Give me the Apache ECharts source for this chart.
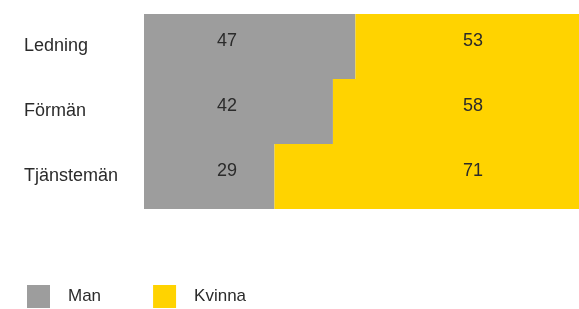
<!DOCTYPE html>
<html><head><meta charset="utf-8">
<script src="https://cdn.jsdelivr.net/npm/echarts@6/dist/echarts.min.js"></script>
<style>html,body{margin:0;padding:0;background:#fff}#c{width:579px;height:309px}</style>
</head><body><div id="c"></div>
<script>
const categories = ['Ledning', 'Förmän', 'Tjänstemän'];
const manValues = [47, 42, 29];
const kvinnaValues = [53, 58, 71];
const seriesNames = ['Man', 'Kvinna'];

const FONT = 'Liberation Sans';
const TXT = '#2b2b2b';
const GRAY = '#9d9d9d';
const YELLOW = '#ffd300';
const chart = echarts.init(document.getElementById('c'), null, {renderer: 'canvas'});
chart.setOption({
  animation: false,
  backgroundColor: '#fff',
  grid: {left: 144, top: 14, height: 195, right: 0, containLabel: false},
  xAxis: {type: 'value', min: 0, max: 96.7, show: false},
  yAxis: {
    type: 'category', data: categories, inverse: true,
    axisLine: {show: false}, axisTick: {show: false}, splitLine: {show: false},
    axisLabel: {align: 'left', margin: 120, color: TXT, fontFamily: FONT, fontSize: 18, padding: [0,0,20,0]}
  },
  legend: {
    left: 22, top: 280, itemWidth: 23, itemHeight: 23, itemGap: 52, icon: 'rect',
    textStyle: {color: TXT, fontFamily: FONT, fontSize: 17, padding: [19, 0, 0, 13]},
    data: seriesNames
  },
  series: [
    {
      name: seriesNames[0], type: 'bar', stack: 'a', data: manValues, barCategoryGap: 0,
      itemStyle: {color: GRAY},
      label: {show: true, position: [83, '50%'], align: 'center', verticalAlign: 'middle', offset: [0, -5],
        color: TXT, fontFamily: FONT, fontSize: 18}
    },
    {
      name: seriesNames[1], type: 'bar', stack: 'a', data: kvinnaValues, barCategoryGap: 0,
      itemStyle: {color: YELLOW},
      label: {show: true, position: ['100%', '50%'], align: 'center', verticalAlign: 'middle', offset: [-106, -5],
        color: TXT, fontFamily: FONT, fontSize: 18}
    }
  ]
});
</script></body></html>
